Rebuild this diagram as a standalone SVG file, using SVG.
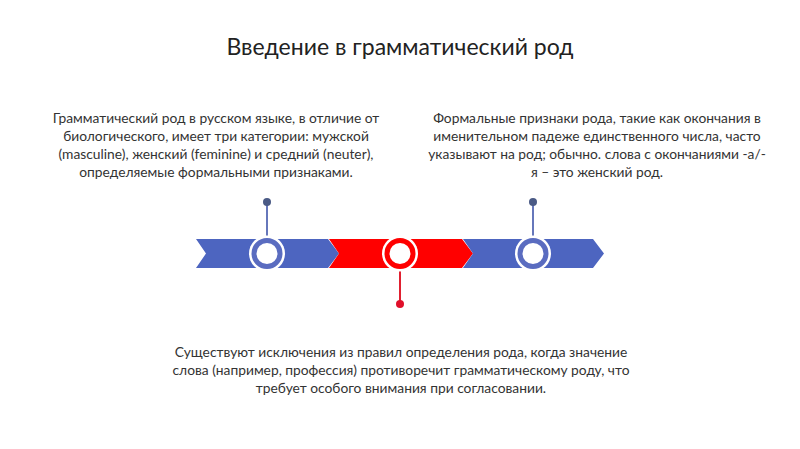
<svg xmlns="http://www.w3.org/2000/svg" width="800" height="449" viewBox="0 0 800 449">
<style>
text{font-family:Lato,"Noto Sans",sans-serif;fill:#333;font-size:13.8px;text-anchor:middle}
.t{font-size:23px;fill:#222}
.b{fill:#4d65c0}.r{fill:#ff0000}
.rb{fill:#fff;stroke:#5a6cc0;stroke-width:5}
.rr{fill:#fff;stroke:#ff0000;stroke-width:5}
</style>
<rect width="800" height="449" fill="#fff"/>
<text class="t" x="400" y="55">Введение в грамматический род</text>
<g id="connectors">
<line x1="267" y1="202" x2="267" y2="238" stroke="#6677bb" stroke-width="2"/>
<circle cx="267" cy="202" r="4" fill="#4a5a85"/>
<line x1="533" y1="202" x2="533" y2="238" stroke="#6677bb" stroke-width="2"/>
<circle cx="533" cy="202" r="4" fill="#4a5a85"/>
<line x1="400" y1="268" x2="400" y2="304" stroke="#e02030" stroke-width="2"/>
<circle cx="400" cy="304" r="4" fill="#e0102a"/>
</g>
<g id="timeline">
<polygon class="b" points="196,239 328,239 339,253.5 328,268 196,268 206,253.5"/>
<polygon class="r" points="329,239 462,239 473,253.5 462,268 329,268 339,253.5"/>
<polygon class="b" points="463,239 593,239 604,253.5 593,268 463,268 473,253.5"/>
</g>
<g id="node1"><circle cx="267" cy="253.5" r="18" fill="#fff"/><circle class="rb" cx="267" cy="253.5" r="13"/>
<text x="216" y="123">Грамматический род в русском языке, в отличие от</text>
<text x="216" y="141">биологического, имеет три категории: мужской</text>
<text x="216" y="159">(masculine), женский (feminine) и средний (neuter),</text>
<text x="216" y="177">определяемые формальными признаками.</text></g>
<g id="node2"><circle cx="400" cy="253.5" r="18" fill="#fff"/><circle class="rr" cx="400" cy="253.5" r="13"/>
<text x="401" y="357">Существуют исключения из правил определения рода, когда значение</text>
<text x="401" y="375">слова (например, профессия) противоречит грамматическому роду, что</text>
<text x="401" y="393">требует особого внимания при согласовании.</text></g>
<g id="node3"><circle cx="533" cy="253.5" r="18" fill="#fff"/><circle class="rb" cx="533" cy="253.5" r="13"/>
<text x="597" y="123">Формальные признаки рода, такие как окончания в</text>
<text x="597" y="141">именительном падеже единственного числа, часто</text>
<text x="597" y="159">указывают на род; обычно. слова с окончаниями -а/-</text>
<text x="597" y="177">я – это женский род.</text></g>
</svg>
